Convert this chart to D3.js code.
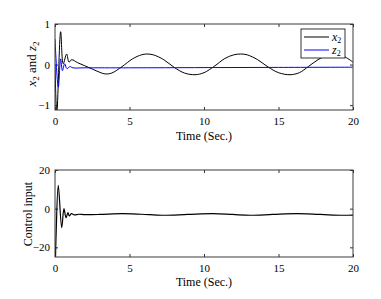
<!DOCTYPE html>
<html>
<head>
<meta charset="utf-8">
<script src="https://cdn.jsdelivr.net/npm/d3@7"></script>
<style>
  body { margin: 0; background: #fff; }
</style>
</head>
<body>
<svg id="chart"></svg>
<script>
// time samples and values
const tX2 = [0, 0.12, 0.38, 0.55, 0.78, 0.94, 1.12, 1.5, 2.0, 2.5, 3.0, 3.35, 3.8, 4.5, 5.2, 5.8, 6.15, 6.6, 7.3, 8.0, 8.7, 9.4, 10.0, 10.7, 11.4, 12.0, 12.46, 12.9, 13.6, 14.3, 15.0, 15.77, 16.4, 17.0, 17.65, 18.3, 18.9, 19.5, 20];
const x2 = [0.0, -1.2, 0.81, 0.02, 0.26, 0.06, 0.12, 0.05, -0.03, -0.11, -0.19, -0.23, -0.21, -0.05, 0.14, 0.24, 0.26, 0.24, 0.12, -0.07, -0.21, -0.25, -0.2, -0.04, 0.15, 0.24, 0.26, 0.24, 0.12, -0.06, -0.2, -0.25, -0.2, -0.05, 0.12, 0.23, 0.25, 0.18, 0.06];

const tZ2 = [0, 0.22, 0.38, 0.5, 0.65, 0.8, 1.0, 1.2, 2, 5, 10, 15, 20];
const z2 = [0.63, -0.56, 0.14, -0.15, 0.02, -0.1, -0.05, -0.08, -0.08, -0.08, -0.075, -0.07, -0.065];

const tU = [0, 0.08, 0.22, 0.45, 0.6, 0.74, 0.87, 0.96, 1.1, 1.3, 1.6, 2.0, 3.0, 4.5, 5.8, 7.2, 8.9, 10.6, 11.9, 13.1, 14.6, 16.2, 17.8, 19.3, 20];
const u = [-40, -12, 12, -9.8, 0, -4.7, -2, -3.8, -2.6, -3.2, -2.9, -3.1, -3.0, -2.6, -2.9, -3.4, -3.0, -2.6, -3.0, -3.4, -3.0, -2.6, -3.0, -3.4, -3.3];

const xTicks = [0, 5, 10, 15, 20];
const topYTicks = [-1, 0, 1];
const botYTicks = [-20, 0, 20];

let width = 381;
let height = 299;
let serif = "'Liberation Serif'";

let svg = d3.select('#chart').attr('width', width).attr('height', height);

let xScale = d3.scaleLinear().domain([0, 20]).range([55, 353]);

let drawPanel = (id, top, bottom, yDomain, yTicks) => {
    let yScale = d3.scaleLinear().domain(yDomain).range([bottom, top]);
    let g = svg.append('g').attr('id', id);

    g.append('clipPath').attr('id', 'clip-' + id)
        .append('rect')
        .attr('x', xScale.range()[0]).attr('y', top)
        .attr('width', xScale.range()[1] - xScale.range()[0])
        .attr('height', bottom - top);

    let styleAxis = (sel) => {
        sel.select('.domain').remove();
        sel.selectAll('.tick line').attr('stroke', '#333');
        sel.selectAll('.tick text')
            .style('font-size', '11px')
            .attr('fill', '#000');
    }

    g.append('g')
        .attr('transform', 'translate(0,' + bottom + ')')
        .call(d3.axisBottom(xScale).tickValues(xTicks).tickSize(-3).tickPadding(7).tickFormat(d3.format('d')))
        .call(styleAxis);
    g.append('g')
        .attr('transform', 'translate(0,' + top + ')')
        .call(d3.axisTop(xScale).tickValues(xTicks).tickSize(-3).tickFormat(''))
        .call(styleAxis);
    g.append('g')
        .attr('transform', 'translate(' + xScale.range()[0] + ',0)')
        .call(d3.axisLeft(yScale).tickValues(yTicks).tickSize(-3).tickPadding(5).tickFormat(d3.format('d')))
        .call(styleAxis);
    g.append('g')
        .attr('transform', 'translate(' + xScale.range()[1] + ',0)')
        .call(d3.axisRight(yScale).tickValues(yTicks).tickSize(-3).tickFormat(''))
        .call(styleAxis);

    return {g: g, yScale: yScale};
}

let addLine = (panel, id, ts, vs, color, w) => {
    let line = d3.line()
        .x(d => xScale(d[0]))
        .y(d => panel.yScale(d[1]))
        .curve(d3.curveCatmullRom.alpha(0.5));
    panel.g.append('path')
        .datum(ts.map((t, i) => [t, vs[i]]))
        .attr('clip-path', 'url(#clip-' + id + ')')
        .attr('fill', 'none')
        .attr('stroke', color)
        .attr('stroke-width', w)
        .attr('d', line);
}

let drawBox = (panel, top, bottom) => {
    panel.g.append('rect')
        .attr('x', xScale.range()[0]).attr('y', top)
        .attr('width', xScale.range()[1] - xScale.range()[0])
        .attr('height', bottom - top)
        .attr('fill', 'none')
        .attr('stroke', '#3a3a3a')
        .attr('stroke-width', 1);
}

// top panel
let p1 = drawPanel('top', 24, 110, [-1.12, 1], topYTicks);
addLine(p1, 'top', tX2, x2, '#000', 1);
addLine(p1, 'top', tZ2, z2, '#0000ff', 1);
drawBox(p1, 24, 110);

// legend
let lg = p1.g.append('g').attr('transform', 'translate(301,29)');
lg.append('rect').attr('width', 44).attr('height', 29)
    .attr('fill', '#fff').attr('stroke', '#000').attr('stroke-width', 0.8);
let legendItems = [{name: 'x', color: '#000'}, {name: 'z', color: '#0000ff'}];
legendItems.forEach((item, i) => {
    let y = 8 + i * 13;
    lg.append('line').attr('x1', 3).attr('x2', 28).attr('y1', y).attr('y2', y)
        .attr('stroke', item.color).attr('stroke-width', 1);
    let t = lg.append('text').attr('x', 31).attr('y', y + 3.5).style('font-size', '12px');
    t.append('tspan').style('font-style', 'italic').text(item.name);
    t.append('tspan').attr('dy', 2.5).style('font-size', '8px').text('2');
});

// x label
svg.append('text').attr('x', 204).attr('y', 140).attr('text-anchor', 'middle')
    .style('font-size', '12px').text('Time (Sec.)');

// y label top
let yl = svg.append('text').attr('transform', 'translate(36,64) rotate(-90)')
    .attr('text-anchor', 'middle').style('font-size', '13px');
yl.append('tspan').style('font-style', 'italic').text('x');
yl.append('tspan').attr('dy', 3).style('font-size', '9px').text('2');
yl.append('tspan').attr('dy', -3).text(' and ');
yl.append('tspan').style('font-style', 'italic').text('z');
yl.append('tspan').attr('dy', 3).style('font-size', '9px').text('2');

// bottom panel
let p2 = drawPanel('bot', 170, 257, [-25, 20], botYTicks);
addLine(p2, 'bot', tU, u, '#000', 1.2);
drawBox(p2, 170, 257);

svg.append('text').attr('x', 204).attr('y', 286).attr('text-anchor', 'middle')
    .style('font-size', '12px').text('Time (Sec.)');

svg.append('text').attr('transform', 'translate(32,214) rotate(-90)')
    .attr('text-anchor', 'middle').style('font-size', '12px').text('Control input');

// every text in the serif face
svg.selectAll('text').style('font-family', serif).attr('fill', '#000');
svg.selectAll('g').attr('font-family', null);
</script>
</body>
</html>
